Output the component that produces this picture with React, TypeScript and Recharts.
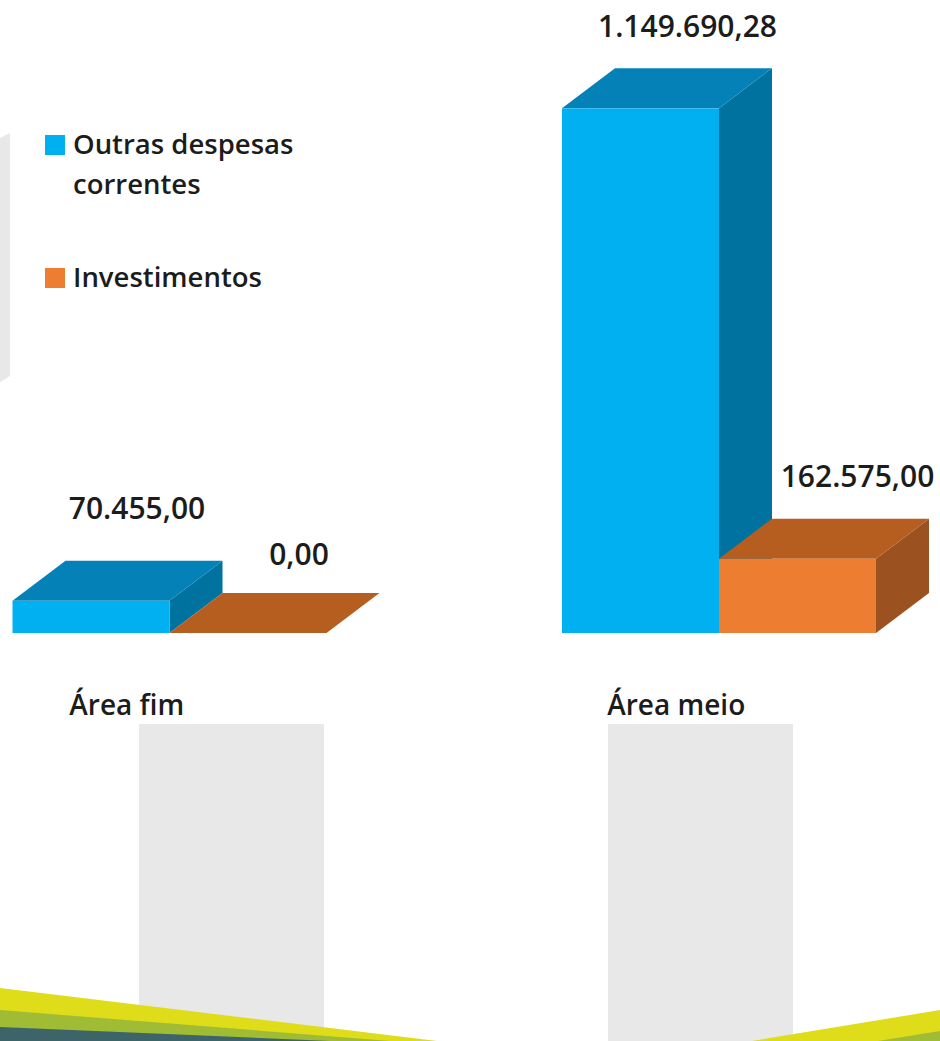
import React from 'react';
import { BarChart, Bar, XAxis, YAxis, Legend } from 'recharts';

const categories = ['Área fim', 'Área meio'];
const outrasDespesas = [70455.0, 1149690.28];
const investimentos = [0.0, 162575.0];
const seriesNames = ['Outras despesas correntes', 'Investimentos'];

const rows = categories.map((area, i) => ({
  area,
  outras: outrasDespesas[i],
  invest: investimentos[i],
}));

const FONT = '"Open Sans", sans-serif';
const DX = 53;
const DY = 40;
const SHIFT = 105; // chart is wider than the page; the overflow is clipped
const TEXT = '#1c1c1c';

const blue = { front: '#00B0F0', top: '#0482B8', side: '#0072A0' };
const orange = { front: '#ED7D31', top: '#B65E20', side: '#9C5220' };

const fmt = (v: number) => {
  const [i, d] = v.toFixed(2).split('.');
  return i.replace(/\B(?=(\d{3})+$)/g, '.') + ',' + d;
};

// manual label placement from the bar's centre and top
const labelPlace: Record<string, number[][]> = {
  outras: [[46, -82], [47, -71]],
  invest: [[51, -68], [60, -72]],
};

const makeShape = (colors: typeof blue, key: string) => (props: any) => {
  const { x, y, width, height, index, value } = props;
  const v = Array.isArray(value) ? value[1] - value[0] : value;
  const [lx, ly] = labelPlace[key][index];
  const r = x + width;
  const b = y + height;
  return (
    <g>
      {height > 0 && (
        <polygon points={`${r},${y} ${r + DX},${y - DY} ${r + DX},${b - DY} ${r},${b}`} fill={colors.side} />
      )}
      <polygon points={`${x},${y} ${x + DX},${y - DY} ${r + DX},${y - DY} ${r},${y}`} fill={colors.top} />
      {height > 0 && <rect x={x} y={y} width={width} height={height} fill={colors.front} />}
      <text
        x={x + width / 2 + lx}
        y={y + ly}
        textAnchor="middle"
        fontFamily={FONT}
        fontWeight={600}
        fontSize={30}
        fill={TEXT}
      >
        {fmt(v)}
      </text>
    </g>
  );
};

const AxisTick = (props: any) => {
  const { x, y, payload } = props;
  return (
    <text x={x - 43} y={y + 74} textAnchor="middle" fontFamily={FONT} fontWeight={600} fontSize={28} fill={TEXT}>
      {payload.value}
    </text>
  );
};

const legendStyle: React.CSSProperties = {
  fontFamily: FONT,
  fontWeight: 600,
  fontSize: 27.5,
  lineHeight: '40px',
  color: TEXT,
};

const LegendBox = (props: any) => (
  <div style={legendStyle}>
    {props.payload.map((p: any, i: number) => (
      <div key={p.value} style={{ position: 'absolute', left: 0, top: i === 0 ? 0 : 133, width: 250 }}>
        <span style={{ position: 'absolute', left: 0, top: 11, width: 20, height: 20, background: p.color }} />
        <div style={{ marginLeft: 28 }}>{p.value}</div>
      </div>
    ))}
  </div>
);

const Backdrop = () => (
  <svg width={940} height={1041} style={{ position: 'absolute', left: 0, top: 0 }}>
    <polygon points="0,138 10,133 10,376 0,382" fill="#E8E8E8" />
    <rect x={139} y={724} width={185} height={317} fill="#E8E8E8" />
    <rect x={608} y={724} width={185} height={317} fill="#E8E8E8" />
    <polygon points="0,988 437,1041 0,1041" fill="#DFDC1A" />
    <polygon points="0,1010 390,1041 0,1041" fill="#A0BC35" />
    <polygon points="0,1027 330,1041 0,1041" fill="#3D6469" />
    <polygon points="752,1041 940,1010 940,1041" fill="#DFDC1A" />
    <polygon points="878,1041 940,1031 940,1041" fill="#A0BC35" />
  </svg>
);

export default function App() {
  return (
    <div style={{ position: 'absolute', left: 0, top: 0, width: 940, height: 1041, overflow: 'hidden', background: '#fff' }}>
      <Backdrop />
      <div style={{ position: 'absolute', left: -SHIFT, top: 0 }}>
        <BarChart
          width={1099}
          height={1041}
          data={rows}
          margin={{ top: 16, right: 0, bottom: 308, left: 0 }}
          barCategoryGap={117.5}
          barGap={0}
        >
          <XAxis dataKey="area" height={100} axisLine={false} tickLine={false} tick={<AxisTick />} interval={0} />
          <YAxis hide domain={[0, 1352000]} width={0} />
          <Legend
            layout="horizontal"
            verticalAlign="middle"
            align="center"
            itemSorter={null}
            content={<LegendBox />}
            wrapperStyle={{ left: SHIFT + 45, top: 124, width: 260, height: 200 }}
          />
          <Bar dataKey="outras" name={seriesNames[0]} fill={blue.front} shape={makeShape(blue, 'outras')} isAnimationActive={false} />
          <Bar dataKey="invest" name={seriesNames[1]} fill={orange.front} shape={makeShape(orange, 'invest')} isAnimationActive={false} />
        </BarChart>
      </div>
    </div>
  );
}
